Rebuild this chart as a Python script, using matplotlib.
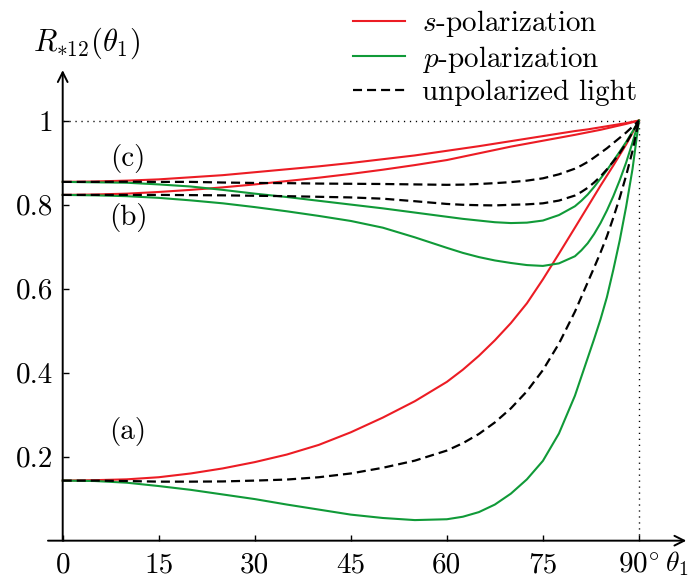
import matplotlib
matplotlib.use("Agg")
import matplotlib.pyplot as plt

plt.rcParams['font.family'] = ['cmr10', 'DejaVu Serif']
plt.rcParams['mathtext.fontset'] = 'cm'
plt.rcParams['axes.unicode_minus'] = False
plt.rcParams['lines.scale_dashes'] = False

# ---- data ----
theta = [0, 5, 10, 15, 20, 25, 30, 35, 40, 45, 50, 55, 60, 62.5, 65, 67.5, 70, 72.5, 75, 77.5,
         80, 81, 82, 83, 84, 85, 86, 87, 88, 89, 90]

# case (a)
s_a = [0.143, 0.144, 0.146, 0.151, 0.160, 0.172, 0.187, 0.205, 0.228, 0.258, 0.293, 0.332,
       0.378, 0.407, 0.440, 0.477, 0.518, 0.565, 0.622, 0.683,
       0.745, 0.770, 0.795, 0.820, 0.845, 0.869, 0.893, 0.918, 0.943, 0.971, 1.0]
p_a = [0.143, 0.142, 0.138, 0.130, 0.121, 0.110, 0.099, 0.086, 0.074, 0.062, 0.054, 0.049,
       0.051, 0.057, 0.068, 0.086, 0.112, 0.146, 0.190, 0.255,
       0.345, 0.390, 0.435, 0.480, 0.527, 0.580, 0.645, 0.715, 0.795, 0.885, 1.0]
u_a = [0.143, 0.143, 0.142, 0.1405, 0.1405, 0.141, 0.143, 0.1455, 0.151, 0.160, 0.1735, 0.1905,
       0.2145, 0.232, 0.254, 0.2815, 0.315, 0.3555, 0.406, 0.469,
       0.545, 0.580, 0.615, 0.650, 0.686, 0.7245, 0.769, 0.8165, 0.869, 0.928, 1.0]

# case (b)
s_b = [0.823, 0.824, 0.826, 0.830, 0.835, 0.841, 0.848, 0.856, 0.864, 0.873, 0.883, 0.894,
       0.906, 0.914, 0.922, 0.930, 0.938, 0.945, 0.952, 0.959,
       0.966, 0.969, 0.972, 0.975, 0.978, 0.9815, 0.985, 0.9885, 0.992, 0.996, 1.0]
p_b = [0.823, 0.822, 0.820, 0.816, 0.810, 0.803, 0.794, 0.784, 0.773, 0.761, 0.745, 0.722,
       0.697, 0.685, 0.675, 0.667, 0.661, 0.656, 0.654, 0.660,
       0.677, 0.691, 0.708, 0.730, 0.756, 0.786, 0.820, 0.858, 0.900, 0.948, 1.0]
u_b = [0.823, 0.823, 0.823, 0.823, 0.8225, 0.822, 0.821, 0.820, 0.8185, 0.817, 0.814, 0.808,
       0.8015, 0.7995, 0.7985, 0.798, 0.7995, 0.8005, 0.803, 0.8095,
       0.8215, 0.830, 0.840, 0.8525, 0.867, 0.884, 0.9025, 0.923, 0.946, 0.972, 1.0]

# case (c)
s_c = [0.854, 0.855, 0.857, 0.860, 0.865, 0.870, 0.877, 0.884, 0.891, 0.899, 0.908, 0.917,
       0.928, 0.9335, 0.939, 0.945, 0.951, 0.957, 0.963, 0.969,
       0.975, 0.977, 0.979, 0.9815, 0.984, 0.9865, 0.989, 0.9915, 0.994, 0.997, 1.0]
p_c = [0.854, 0.853, 0.852, 0.848, 0.843, 0.835, 0.826, 0.818, 0.809, 0.800, 0.791, 0.781,
       0.771, 0.766, 0.762, 0.758, 0.756, 0.757, 0.762, 0.775,
       0.796, 0.809, 0.824, 0.842, 0.862, 0.882, 0.904, 0.926, 0.949, 0.974, 1.0]
u_c = [0.854, 0.854, 0.8545, 0.854, 0.854, 0.8525, 0.8515, 0.851, 0.850, 0.8495, 0.849, 0.848,
       0.847, 0.8475, 0.849, 0.851, 0.8535, 0.857, 0.8625, 0.872,
       0.8855, 0.893, 0.9015, 0.912, 0.923, 0.934, 0.9465, 0.959, 0.9715, 0.9855, 1.0]

xticks = [0, 15, 30, 45, 60, 75, 90]
xticklabels = ['0', '15', '30', '45', '60', '75', r'90$^{\circ}$']
yticks = [0.2, 0.4, 0.6, 0.8, 1.0]
yticklabels = ['0.2', '0.4', '0.6', '0.8', '1']
case_labels = ['(a)', '(b)', '(c)']
case_pos = [(10.2, 0.259), (10.2, 0.770), (10.2, 0.909)]
legend_labels = [r'$s$-polarization', r'$p$-polarization', 'unpolarized light']

RED = '#ec1c24'
GREEN = '#109a38'
FS = 21

fig = plt.figure(figsize=(6.97, 5.83), dpi=100)
ax = fig.add_axes([0.0624, 0.0726, 0.9278, 0.8143])
ax.set_xlim(-3, 98)
ax.set_ylim(0, 1.13)

for s, p, u in [(s_a, p_a, u_a), (s_b, p_b, u_b), (s_c, p_c, u_c)]:
    ax.plot(theta, s, color=RED, lw=1.5, zorder=3)
    ax.plot(theta, p, color=GREEN, lw=1.5, zorder=3)
    ax.plot(theta, u, color='black', lw=1.6, dashes=(6.5, 3.6), zorder=4)

# proxies for legend
h1, = ax.plot([], [], color=RED, lw=1.5)
h2, = ax.plot([], [], color=GREEN, lw=1.5)
h3, = ax.plot([], [], color='black', lw=1.6, dashes=(6.5, 3.6))

# dotted guides
ax.plot([0, 90], [1, 1], color='black', lw=1.0, dashes=(0.9, 3.4), zorder=2)
ax.plot([90, 90], [0, 1], color='black', lw=1.0, dashes=(0.9, 3.4), zorder=2)

# spines / axes arrows
for sp in ax.spines.values():
    sp.set_color('none')
ax.spines['left'].set_position(('data', 0))
ax.spines['bottom'].set_position(('data', 0))
ax.annotate('', xy=(97.4, 0), xytext=(-2.3, 0), xycoords='data',
            arrowprops=dict(arrowstyle='->,head_length=0.7,head_width=0.35', lw=1.4, color='black',
                            shrinkA=0, shrinkB=0), annotation_clip=False)
ax.annotate('', xy=(0, 1.12), xytext=(0, 0), xycoords='data',
            arrowprops=dict(arrowstyle='->,head_length=0.7,head_width=0.35', lw=1.4, color='black',
                            shrinkA=0, shrinkB=0), annotation_clip=False)

ax.set_xticks(xticks)
ax.set_xticklabels(xticklabels)
ax.set_yticks(yticks)
ax.set_yticklabels(yticklabels)
ax.tick_params(axis='both', direction='in', length=4, width=1.0, labelsize=FS)
ax.tick_params(axis='x', pad=8)
ax.tick_params(axis='y', pad=7)

for lab, (x, y) in zip(case_labels, case_pos):
    ax.text(x, y, lab, fontsize=FS, ha='center', va='center')

ax.text(94.0, -0.055, r'$\theta_1$', fontsize=FS - 1, ha='left', va='center', clip_on=False)
ax.text(-4.6, 1.167, r'$R_{*12}(\theta_1)$', fontsize=FS + 1, ha='left', va='baseline', clip_on=False)

fig.legend([h1, h2, h3], legend_labels, loc='upper left',
           bbox_to_anchor=(353 / 697, 1 - 8 / 583), frameon=False, fontsize=FS,
           borderpad=0, borderaxespad=0, handlelength=1.78, handletextpad=0.58, labelspacing=0.16)

fig.savefig('out.png', dpi=100)
